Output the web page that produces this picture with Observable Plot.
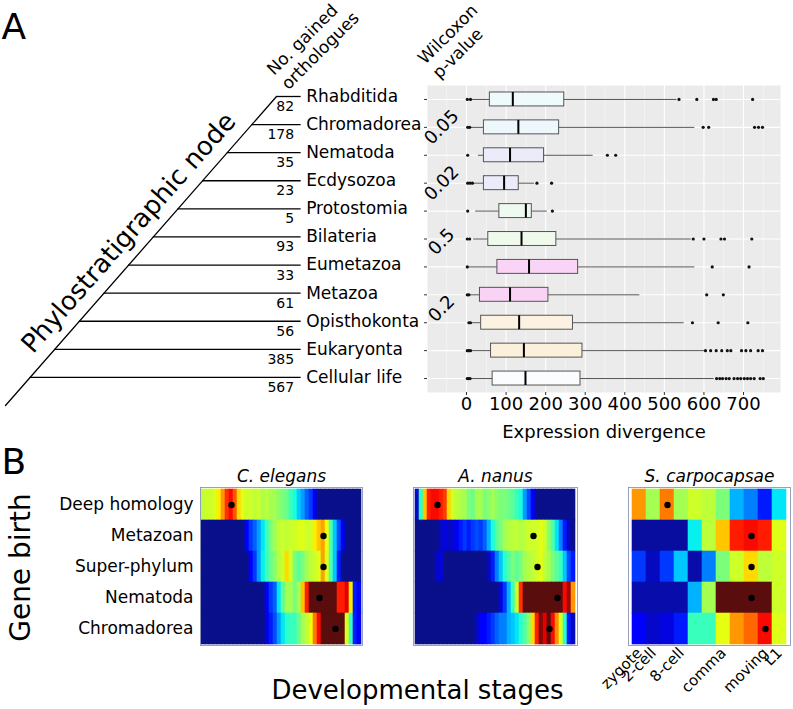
<!DOCTYPE html>
<html><head><meta charset="utf-8">
<script src="https://cdn.jsdelivr.net/npm/d3@7"></script>
<script src="https://cdn.jsdelivr.net/npm/@observablehq/plot@0.6"></script>
<style>
html,body{margin:0;padding:0;background:#fff;}
#fig{position:relative;width:793px;height:709px;overflow:hidden;background:#fff;}
#fig svg{position:absolute;overflow:visible;}
</style></head><body><div id="fig"></div>
<script>
// ---------- Panel A data ----------
const nodes = ["Rhabditida","Chromadorea","Nematoda","Ecdysozoa","Protostomia","Bilateria","Eumetazoa","Metazoa","Opisthokonta","Eukaryonta","Cellular life"];
const gained = [82,178,35,23,5,93,33,61,56,385,567];
const boxQ1     = [59, 44, 44, 44, 83, 55, 78, 34, 37, 62, 66];
const boxMedian = [117,131,110, 95,150,139,158,110,133,145,149];
const boxQ3     = [247,234,196,132,165,227,282,207,269,293,288];
const whiskerLow  = [14, 10, 30, 20, 23, 18, 5, 8, 10, 12, 10];
const whiskerHigh = [532,577,320,172,204,568,577,438,550,602,626];
const outliers = [
  [2, 10, 537, 582, 624, 631, 723],
  [3, 8, 598, 612, 728, 738, 748],
  [3, 356, 377],
  [3, 9, 15, 178, 215],
  [3, 217],
  [2, 8, 573, 600, 643, 652, 721],
  [2, 621, 714],
  [2, 6, 607, 649],
  [6, 10, 571, 636, 711],
  [2, 6, 10, 604, 617, 631, 645, 659, 668, 695, 706, 718, 737, 748],
  [2, 5, 9, 632, 640, 647, 656, 664, 676, 685, 693, 702, 710, 718, 727, 742, 750]
];
const pvalues = ["0.05","0.02","0.5","0.2"];
const pvalueRow = [1, 3, 5.1, 7.5];
const divergenceTicks = [0,100,200,300,400,500,600,700];
const divergenceMinor = [-50,50,150,250,350,450,550,650,750];
const boxFill = ["#eefafb","#eef8fc","#ecebfa","#ecebfa","#eefaef","#f0faec","#f9d4f6","#f8d3f6","#fcf2e1","#fbf0dc","#fbfcfe"];

// ---------- Panel B data ----------
const birthClasses = ["Deep homology","Metazoan","Super-phylum","Nematoda","Chromadorea"];
const ceValues = [
  [0.58,0.6,0.6,0.62,0.66,0.75,0.86,0.9,0.82,0.68, 0.62,0.6,0.6,0.58,0.6,0.56,0.58,0.55,0.55,0.52, 0.5,0.48,0.42,0.38,0.32,0.28,0.22,0.18,0.1,0, 0,0,0,0,0,0,0,0,0,0],
  [0,0,0,0,0,0,0,0,0,0, 0,0.12,0.18,0.22,0.28,0.35,0.42,0.5,0.55,0.58, 0.6,0.58,0.6,0.6,0.62,0.62,0.6,0.6,0.66,0.7, 0.74,0.64,0.45,0.32,0.2,0.1,0,0,0,0],
  [0,0,0,0,0,0,0,0,0,0, 0,0,0.12,0.18,0.28,0.36,0.42,0.48,0.52,0.57, 0.6,0.68,0.6,0.5,0.46,0.5,0.55,0.58,0.6,0.62, 0.74,0.62,0.45,0.32,0.15,0,0,0,0,0],
  [0,0,0,0,0,0,0,0,0,0, 0,0,0,0,0,0,0.1,0.18,0.22,0.35, 0.46,0.55,0.55,0.5,0.55,0.7,0.88,1,1,1, 1,1,1,1,0.88,0.88,0.92,0.66,0.15,0.1],
  [0,0,0,0,0,0,0,0,0,0, 0,0,0,0,0,0,0.08,0.15,0.2,0.28, 0.35,0.4,0.42,0.42,0.48,0.55,0.58,0.64,0.78,0.9, 1,1,1,1,1,1,0.62,0.42,0.15,0.1]
];
const anValues = [
  [0.05,0.4,0.7,0.88,0.9,0.9,0.88,0.85,0.68,0.6, 0.58,0.56,0.55,0.5,0.48,0.55,0.55,0.5,0.52,0.55, 0.52,0.5,0.5,0.48,0.46,0.42,0.38,0.28,0.2,0.12, 0,0,0,0,0,0,0,0,0,0],
  [0,0,0,0,0,0,0.05,0.08,0.05,0.07, 0.1,0.15,0.18,0.15,0.18,0.2,0.18,0.22,0.3,0.38, 0.46,0.5,0.55,0.57,0.58,0.58,0.57,0.58,0.6,0.6, 0.6,0.63,0.6,0.52,0.45,0.35,0.25,0.15,0.05,0],
  [0,0,0,0,0,0.06,0.08,0,0,0, 0,0,0,0,0,0,0,0,0.05,0.15, 0.25,0.32,0.4,0.45,0.5,0.46,0.5,0.55,0.57,0.58, 0.6,0.63,0.58,0.55,0.5,0.46,0.42,0.32,0.2,0.15],
  [0,0,0,0,0,0,0,0,0,0, 0,0,0,0,0,0,0,0,0,0, 0,0.08,0.18,0.3,0.42,0.6,0.86,1,1,1, 1,1,1,1,1,1,1,0.9,0.96,0.75],
  [0,0,0,0,0,0,0,0,0,0, 0,0,0,0,0,0.05,0.12,0.12,0.15,0.18, 0.22,0.25,0.25,0.3,0.32,0.35,0.4,0.45,0.52,0.68, 0.88,0.98,0.92,1,0.9,0.76,0.62,0.4,0.15,0.05]
];
const scValues = [
  [0.75,0.55,0.78,0.55,0.6,0.58,0.5,0.3,0.25,0.15,0.35],
  [0.02,0.02,0.02,0.02,0.36,0.58,0.7,0.88,0.9,0.88,0.62],
  [0.18,0.05,0.18,0.32,0.03,0.25,0.5,0.6,0.68,0.58,0.6],
  [0.03,0.03,0.03,0.03,0.3,0.55,1,1,1,1,0.6],
  [0.12,0.06,0.08,0.15,0.42,0.42,0.63,0.75,0.8,0.9,0.62]
];
const cePeaks = [7, 30, 30, 29, 33];
const anPeaks = [5, 29, 30, 35, 33];
const scPeaks = [2, 8, 8, 8, 9];
const stageLabels = ["zygote","2-cell","8-cell","comma","moving","L1"];
const stageIndex = [0, 1, 3, 6, 9, 10];

// jet-like colour map
const jetDomain = [0, 0.11, 0.125, 0.34, 0.35, 0.375, 0.64, 0.65, 0.66, 0.89, 0.91, 1];
const jetRange = ["#0a108a","#0000ff","#0000ff","#00dbff","#00e5f7","#14ffe2","#eeff08","#f7f600","#ffec00","#ff1300","#f30000","#5a0d0d"];

const FONT = "DejaVu Sans";
const baseStyle = {fontFamily: FONT, background: "transparent", color: "#000", overflow: "visible"};
const fig = document.getElementById("fig");
function place(svg, left, top) { svg.style.left = left + "px"; svg.style.top = top + "px"; fig.appendChild(svg); }

// ---------- Background: tree + annotations ----------
const tip = nodes.length - 1;
const treeData = nodes.map((name, i) => ({name, n: gained[i], rank: tip - i}));
const bg = Plot.plot({
  width: 793, height: 709, margin: 0,
  style: baseStyle,
  x: {type: "linear", domain: [-1, tip], range: [5, 276], axis: null},
  y: {type: "linear", domain: [-1, tip], range: [405, 96], axis: null},
  marks: [
    Plot.line([-1, tip], {x: d => d, y: d => d, stroke: "#000", strokeWidth: 1.3}),
    Plot.ruleY(treeData, {y: "rank", x1: "rank", x2: tip + 1, stroke: "#000", strokeWidth: 1.3}),
    Plot.text(treeData, {x: tip + 1, y: "rank", text: "name", textAnchor: "start", lineAnchor: "middle", dx: 5, fontSize: 17}),
    Plot.text(treeData, {x: tip + 1, y: "rank", text: d => String(d.n), textAnchor: "end", lineAnchor: "middle", dx: -7, dy: 10, fontSize: 14}),
    Plot.text([4.65], {x: d => d, y: d => d, text: () => "Phylostratigraphic node", rotate: -48.7, textAnchor: "middle", lineAnchor: "middle", dx: -16, dy: -14, fontSize: 26}),
    Plot.text([tip], {x: d => d, y: d => d, text: () => "No. gained\northologues", rotate: -45, textAnchor: "start", lineAnchor: "bottom", lineHeight: 1.2, dx: 12, dy: -6, fontSize: 17}),
    Plot.text(["A"], {frameAnchor: "top-left", text: d => d, dx: 1, dy: 38, lineAnchor: "bottom", textAnchor: "start", fontSize: 36}),
    Plot.text(["B"], {frameAnchor: "top-left", text: d => d, dx: 1, dy: 473, lineAnchor: "bottom", textAnchor: "start", fontSize: 36}),
    Plot.text(["Gene birth"], {frameAnchor: "top-left", text: d => d, dx: 21, dy: 567, rotate: -90, textAnchor: "middle", lineAnchor: "middle", fontSize: 28}),
    Plot.text(["Developmental stages"], {frameAnchor: "top-left", text: d => d, dx: 417, dy: 690, textAnchor: "middle", lineAnchor: "middle", fontSize: 26})
  ]
});
place(bg, 0, 0);

// ---------- Boxplot ----------
const boxRows = nodes.map((name, i) => ({i, lo: whiskerLow[i], q1: boxQ1[i], med: boxMedian[i], q3: boxQ3[i], hi: whiskerHigh[i]}));
const outPts = outliers.flatMap((arr, i) => arr.map(v => ({i, v})));
const pvalData = pvalues.map((p, k) => ({p, row: pvalueRow[k]}));
const rowIdx = nodes.map((_, i) => i);
const box = Plot.plot({
  width: 373, height: 450, marginTop: 85, marginBottom: 58, marginLeft: 7, marginRight: 13,
  style: baseStyle,
  x: {type: "linear", domain: [-98.6, 793.5]},
  y: {type: "linear", domain: [nodes.length - 0.5, -0.5]},
  color: {type: "identity"},
  marks: [
    Plot.frame({fill: "#ebebeb", stroke: "none"}),
    Plot.ruleX(divergenceMinor, {stroke: "#fff", strokeWidth: 0.55, strokeOpacity: 0.8}),
    Plot.ruleX(divergenceTicks, {stroke: "#fff", strokeWidth: 1.1}),
    Plot.ruleY(rowIdx, {stroke: "#fff", strokeWidth: 1.1}),
    Plot.axisX({ticks: divergenceTicks, tickSize: 3, tickPadding: 2, fontSize: 18, stroke: "#333", label: null}),
    Plot.axisY({ticks: rowIdx, tickSize: 3, tickFormat: () => "", stroke: "#333", label: null}),
    Plot.ruleY(boxRows, {y: "i", x1: "lo", x2: "q1", stroke: "#555", strokeWidth: 1}),
    Plot.ruleY(boxRows, {y: "i", x1: "q3", x2: "hi", stroke: "#555", strokeWidth: 1}),
    Plot.rect(boxRows, {x1: "q1", x2: "q3", y1: d => d.i - 0.25, y2: d => d.i + 0.25, fill: d => boxFill[d.i], stroke: "#555", strokeWidth: 1}),
    Plot.ruleX(boxRows, {x: "med", y1: d => d.i - 0.25, y2: d => d.i + 0.25, stroke: "#000", strokeWidth: 2}),
    Plot.dot(outPts, {x: "v", y: "i", r: 1.6, fill: "#111", stroke: "none"}),
    Plot.text(pvalData, {frameAnchor: "left", y: "row", text: "p", dx: 14, rotate: -45, textAnchor: "middle", lineAnchor: "middle", fontSize: 18}),
    Plot.text(["Expression divergence"], {frameAnchor: "bottom", text: d => d, dy: 40, textAnchor: "middle", lineAnchor: "middle", fontSize: 18}),
    Plot.text(["Wilcoxon\np-value"], {frameAnchor: "top-left", text: d => d, dx: 12, dy: -6, rotate: -45, textAnchor: "start", lineAnchor: "bottom", lineHeight: 1.2, fontSize: 17})
  ]
});
place(box, 420, 0);

// ---------- Heatmaps ----------
function heatmap(values, peaks, title, o) {
  const nCol = values[0].length;
  const cells = values.flatMap((row, r) => row.map((v, c) => ({c, g: birthClasses[r], v})));
  const dots = peaks.map((c, r) => ({c, g: birthClasses[r]}));
  const marks = [
    Plot.cell(cells, {x: "c", y: "g", fill: "v", inset: -0.3}),
    Plot.frame({stroke: "#7f88b0", strokeWidth: 0.8}),
    Plot.dot(dots, {x: "c", y: "g", r: 3.2, fill: "#000", stroke: "none"}),
    Plot.text([title], {frameAnchor: "top", text: d => d, dy: -11, textAnchor: "middle", lineAnchor: "middle", fontStyle: "italic", fontSize: 17})
  ];
  if (o.rowLabels) marks.push(Plot.axisY({tickSize: 0, tickPadding: 7, fontSize: 17, label: null}));
  if (o.stages) {
    const st = stageLabels.map((label, k) => ({c: stageIndex[k], label}));
    marks.push(Plot.text(st, {x: "c", frameAnchor: "bottom", text: "label", rotate: -45, textAnchor: "end", lineAnchor: "middle", dy: 5, fontSize: 15}));
  }
  return Plot.plot({
    width: o.width, height: o.height,
    marginLeft: o.marginLeft, marginRight: o.marginRight, marginTop: 25, marginBottom: o.marginBottom,
    style: baseStyle,
    x: {type: "band", domain: d3.range(nCol), padding: 0, axis: null},
    y: {type: "band", domain: birthClasses, padding: 0, axis: o.rowLabels ? undefined : null},
    color: {type: "linear", domain: jetDomain, range: jetRange, interpolate: "rgb", clamp: true},
    marks
  });
}
place(heatmap(ceValues, cePeaks, "C. elegans", {width: 370, height: 190, marginLeft: 200, marginRight: 8, marginBottom: 7, rowLabels: true}), 0, 462);
place(heatmap(anValues, anPeaks, "A. nanus", {width: 180, height: 190, marginLeft: 8, marginRight: 8, marginBottom: 7}), 405, 462);
place(heatmap(scValues, scPeaks, "S. carpocapsae", {width: 203, height: 247, marginLeft: 38, marginRight: 3, marginBottom: 64, stages: true}), 590, 462);
</script></body></html>
